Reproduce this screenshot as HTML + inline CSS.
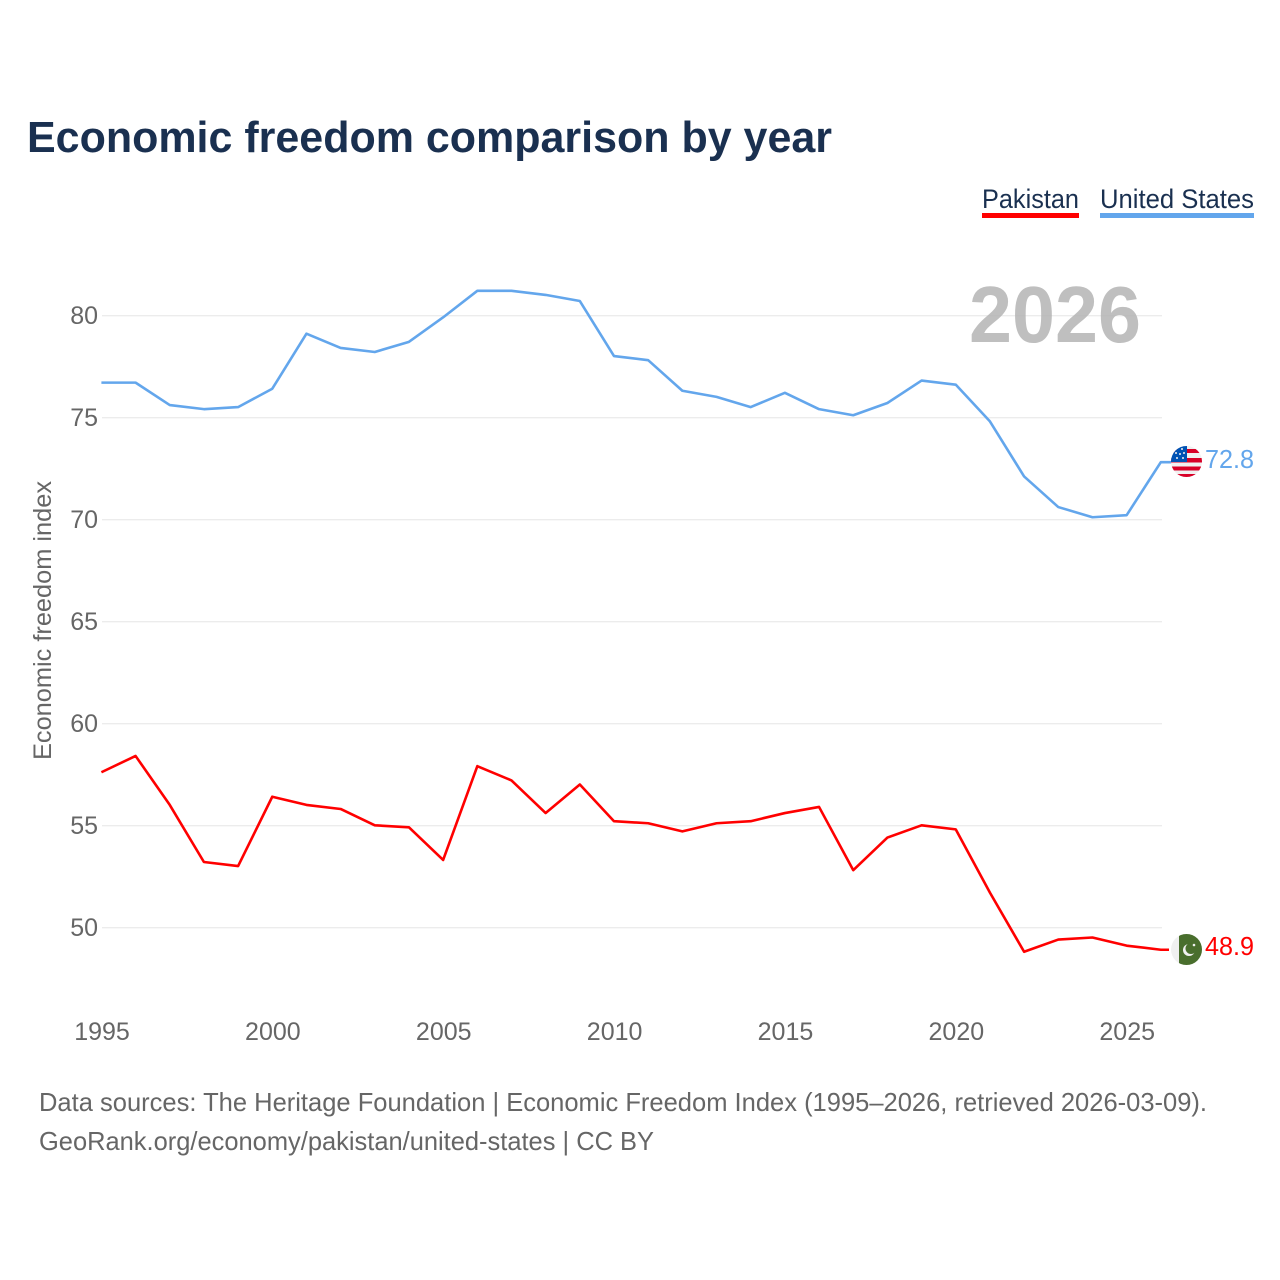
<!DOCTYPE html>
<html lang="en">
<head>
<meta charset="utf-8">
<title>Economic freedom comparison by year</title>
<style>
html,body{margin:0;padding:0;background:#fff;width:1280px;height:1280px;overflow:hidden}
svg{display:block;font-family:"Liberation Sans",sans-serif}
</style>
</head>
<body>
<svg id="chart" width="1280" height="1280" viewBox="0 0 1280 1280" xmlns="http://www.w3.org/2000/svg">
  <defs>
    <clipPath id="us-clip"><circle cx="1186.500" cy="461.500" r="15.500"/></clipPath>
    <clipPath id="pk-clip"><circle cx="1186.500" cy="949.500" r="15.500"/></clipPath>
  </defs>
  <text x="27" y="152" font-size="44" font-weight="700" fill="#1a3050" textLength="805" lengthAdjust="spacingAndGlyphs">Economic freedom comparison by year</text>

  <g>
    <g>
      <text x="982" y="208" font-size="27" fill="#1a3050" textLength="97" lengthAdjust="spacingAndGlyphs">Pakistan</text>
      <rect x="982" y="213" width="97" height="5" fill="#ff0000"/>
    </g>
    <g>
      <text x="1100" y="208" font-size="27" fill="#1a3050" textLength="154" lengthAdjust="spacingAndGlyphs">United States</text>
      <rect x="1100" y="213" width="154" height="5" fill="#63a6ec"/>
    </g>
  </g>

  <g id="grid"></g>
  <g id="y-ticks"></g>
  <g id="x-ticks"></g>

  <text transform="translate(51,760) rotate(-90)" font-size="25" fill="#666666" textLength="279" lengthAdjust="spacingAndGlyphs">Economic freedom index</text>

  <text x="969" y="342" font-size="80" font-weight="700" fill="#b4b4b4" fill-opacity="0.85" textLength="172" lengthAdjust="spacingAndGlyphs">2026</text>

  <g id="series"></g>

  <g clip-path="url(#us-clip)">
    <rect x="1171" y="446" width="31" height="32" fill="#f0f0f0"/>
    <rect x="1171" y="449" width="31" height="4" fill="#d80027"/>
    <rect x="1171" y="458" width="31" height="4.500" fill="#d80027"/>
    <rect x="1171" y="466.500" width="31" height="4" fill="#d80027"/>
    <rect x="1171" y="474" width="31" height="4" fill="#d80027"/>
    <rect x="1171" y="446" width="16" height="16" fill="#0052b4"/>
    <g fill="#f0f0f0">
      <circle cx="1177" cy="458" r="1"/><circle cx="1183" cy="458" r="1"/><circle cx="1180" cy="454" r="1"/>
      <circle cx="1184" cy="453" r="1"/><circle cx="1176" cy="453" r="1"/><circle cx="1182" cy="449" r="1"/>
    </g>
  </g>

  <g clip-path="url(#pk-clip)">
    <rect x="1171" y="934" width="32" height="32" fill="#f0f0f0"/>
    <rect x="1179" y="934" width="24" height="32" fill="#496e2d"/>
    <circle cx="1189" cy="950" r="6" fill="#f0f0f0"/>
    <circle cx="1191" cy="948.500" r="5.500" fill="#496e2d"/>
    <circle cx="1194" cy="945" r="1.300" fill="#f0f0f0"/>
  </g>

  <text x="1205" y="468" font-size="26" fill="#63a6ec" textLength="49" lengthAdjust="spacingAndGlyphs">72.8</text>
  <text x="1205" y="955" font-size="26" fill="#ff0000" textLength="49" lengthAdjust="spacingAndGlyphs">48.9</text>

  <text x="39" y="1111" font-size="26" fill="#666666" textLength="1168" lengthAdjust="spacingAndGlyphs">Data sources: The Heritage Foundation | Economic Freedom Index (1995–2026, retrieved 2026-03-09).</text>
  <text x="39" y="1150" font-size="26" fill="#666666" textLength="615" lengthAdjust="spacingAndGlyphs">GeoRank.org/economy/pakistan/united-states | CC BY</text>
</svg>
<script>
const years = [1995,1996,1997,1998,1999,2000,2001,2002,2003,2004,2005,2006,2007,2008,2009,2010,2011,2012,2013,2014,2015,2016,2017,2018,2019,2020,2021,2022,2023,2024,2025,2026];
const unitedStates = [76.7,76.7,75.6,75.4,75.5,76.4,79.1,78.4,78.2,78.7,79.9,81.2,81.2,81.0,80.7,78.0,77.8,76.3,76.0,75.5,76.2,75.4,75.1,75.7,76.8,76.6,74.8,72.1,70.6,70.1,70.2,72.8];
const pakistan = [57.6,58.4,56.0,53.2,53.0,56.4,56.0,55.8,55.0,54.9,53.3,57.9,57.2,55.6,57.0,55.2,55.1,54.7,55.1,55.2,55.6,55.9,52.8,54.4,55.0,54.8,51.7,48.8,49.4,49.5,49.1,48.9];
const yTicks = [50,55,60,65,70,75,80];
const xTicks = [1995,2000,2005,2010,2015,2020,2025];

const NS = 'http://www.w3.org/2000/svg';
const xScale = function (year) { return 101.4 + (year - 1995) * (1160.8 - 101.4) / 31; };
const yScale = function (value) { return 927.3 - (value - 50) * 20.4; };

const gridGroup = document.getElementById('grid');
const yTickGroup = document.getElementById('y-ticks');
const xTickGroup = document.getElementById('x-ticks');
const seriesGroup = document.getElementById('series');

yTicks.forEach(function (tick) {
  const line = document.createElementNS(NS, 'line');
  
  
  line.setAttribute('x1', 102);
  line.setAttribute('x2', 1162);
  line.setAttribute('y1', yScale(tick) + 0.4);
  line.setAttribute('y2', yScale(tick) + 0.4);
  line.setAttribute('stroke', '#e6e6e6');
  line.setAttribute('stroke-width', 1);
  gridGroup.appendChild(line);

  const label = document.createElementNS(NS, 'text');
  
  
  label.setAttribute('x', 98);
  label.setAttribute('y', yScale(tick) + 8.7);
  label.setAttribute('text-anchor', 'end');
  label.setAttribute('font-size', 25);
  label.setAttribute('fill', '#666666');
  label.textContent = tick;
  yTickGroup.appendChild(label);
});

xTicks.forEach(function (tick) {
  const label = document.createElementNS(NS, 'text');
  
  
  label.setAttribute('x', xScale(tick) + 0.6);
  label.setAttribute('y', 1040);
  label.setAttribute('text-anchor', 'middle');
  label.setAttribute('font-size', 25);
  label.setAttribute('fill', '#666666');
  label.textContent = tick;
  xTickGroup.appendChild(label);
});

function pointsFor(values, connectorEndX) {
  const pts = values.map(function (value, i) {
    return xScale(years[i]).toFixed(2) + ',' + yScale(value).toFixed(2);
  });
  pts.push(connectorEndX + ',' + yScale(values[values.length - 1]).toFixed(2));
  return pts.join(' ');
}

const lineUS = document.createElementNS(NS, 'polyline');


lineUS.setAttribute('points', pointsFor(unitedStates, 1172));
lineUS.setAttribute('fill', 'none');
lineUS.setAttribute('stroke', '#63a6ec');
lineUS.setAttribute('stroke-width', 2.6);
lineUS.setAttribute('stroke-linejoin', 'round');
seriesGroup.appendChild(lineUS);

const linePK = document.createElementNS(NS, 'polyline');


linePK.setAttribute('points', pointsFor(pakistan, 1169));
linePK.setAttribute('fill', 'none');
linePK.setAttribute('stroke', '#ff0000');
linePK.setAttribute('stroke-width', 2.6);
linePK.setAttribute('stroke-linejoin', 'round');
seriesGroup.appendChild(linePK);
</script>
</body>
</html>
